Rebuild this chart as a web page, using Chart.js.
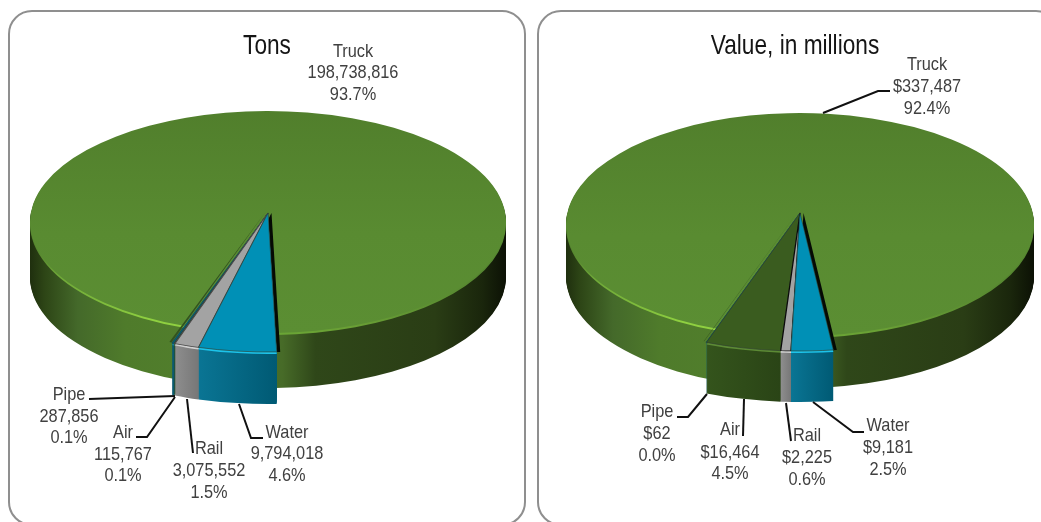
<!DOCTYPE html>
<html>
<head>
<meta charset="utf-8">
<script src="https://cdn.jsdelivr.net/npm/chart.js@4/dist/chart.umd.min.js"></script>
<style>
html,body{margin:0;padding:0;background:#fff;overflow:hidden;width:1041px;height:522px}
.panel{position:absolute;box-sizing:border-box;border:2px solid #8f8f8f;border-radius:24px;background:#fff}
canvas{position:absolute;top:0}
</style>
</head>
<body>
<div class="panel" style="left:8px;top:10px;width:518px;height:516px"></div>
<div class="panel" style="left:537px;top:10px;width:523px;height:516px"></div>
<canvas id="tons" width="530" height="522" style="left:0"></canvas>
<canvas id="value" width="530" height="522" style="left:530px"></canvas>
<script>
// ---- data ----
const categories = ['Truck', 'Water', 'Rail', 'Air', 'Pipe'];
const tonsValues = [198738816, 9794018, 3075552, 115767, 287856];
const valueMillions = [337487, 9181, 2225, 16464, 62];

// ---- styles ----
const topColors = ['#558630', '#0090b6', '#a3a3a3', '#3a5c1f', '#0b5a70'];
const rimColors = ['#8ccb45', '#1cc3ea', '#d0d0d0', '#5c8a35', '#1a8099'];
const sideStops = [
  [[0,'#1f2f0e'],[0.03,'#2d4516'],[0.1,'#44692a'],[0.2,'#4f7b2b'],[0.33,'#517e2c'],[0.53,'#476b28'],[0.6,'#2f4719'],[0.85,'#2a3d15'],[0.95,'#1a260c'],[1,'#0c1105']],
  [[0,'#0a7594'],[1,'#005a74']],
  [[0,'#8e8e8e'],[1,'#777777']],
  [[0,'#34541c'],[1,'#2a4416']],
  [[0,'#0b5a70'],[1,'#0b5a70']]
];
const FONT_FAMILY = '"Liberation Sans",sans-serif';
const LABEL_SIZE = 19, LABEL_SQUEEZE = 0.86, TEXT_DY = 1;
const TITLE_SIZE = 28, TITLE_SQUEEZE = 0.81;

// ---- layouts (page pixels, minus canvas origin) ----
const tonsLayout = {
  originX: 0, title: 'Tons', titleX: 267, titleY: 45, rotation: 200.7, prefix: '',
  cx: 268, tipY: 213, railEdge: '#4a4a4a',
  truck: {cy: 222, rx: 238, ry: 111, depth: 55},
  wedge: {rx: 272, ry: 139, depth: 52},
  labels: [
    {x: 353, y: [51, 72, 94], line: null},
    {x: 287, y: [432, 453, 475], line: [[263,438],[251,438],[239,404]]},
    {x: 209, y: [448, 470, 492], line: [[193,453],[187,399]]},
    {x: 123, y: [432, 454, 475], line: [[136,437],[147,437],[175,397]]},
    {x: 69,  y: [394, 416, 437], line: [[89,399],[175,396]]}
  ]
};
const valueLayout = {
  originX: 530, title: 'Value, in millions', titleX: 795, titleY: 45, rotation: 200.4, prefix: '$',
  cx: 800, tipY: 213, railEdge: '#0a0a0a',
  truck: {cy: 224.5, rx: 234, ry: 111.5, depth: 52},
  wedge: {rx: 269, ry: 138, depth: 51},
  labels: [
    {x: 927, y: [64, 86, 108], line: [[823,113],[878,91],[890,91]]},
    {x: 888, y: [425, 447, 469], line: [[864,432],[853,432],[813,402]]},
    {x: 807, y: [435, 457, 479], line: [[791,441],[786,403]]},
    {x: 730, y: [429, 452, 473], line: [[743,436],[744,399]]},
    {x: 657, y: [411, 433, 455], line: [[677,417],[688,417],[707,394]]}
  ]
};

function arcOpts(bg, bw, bc) {
  return {backgroundColor: bg, borderColor: bc || 'transparent', borderWidth: bw || 0,
    borderAlign: 'center', borderJoinStyle: 'round', borderRadius: 0, offset: 0, spacing: 0,
    circular: true, borderDash: [], borderDashOffset: 0};
}
function paint(ctx, arc, geo, cx, cy, dx, dy, fill, bw, bc) {
  const saved = arc.options;
  arc.options = arcOpts(fill, bw, bc);
  ctx.save();
  ctx.translate(cx + dx, cy + dy);
  ctx.scale(geo.rx / arc.outerRadius, geo.ry / arc.outerRadius);
  ctx.translate(-arc.x, -arc.y);
  arc.draw(ctx);
  ctx.restore();
  arc.options = saved;
}
function sideGradient(ctx, arc, stops) {
  const g = ctx.createLinearGradient(arc.x - arc.outerRadius, 0, arc.x + arc.outerRadius, 0);
  stops.forEach(s => g.addColorStop(s[0], s[1]));
  return g;
}
function wedgeSideGradient(ctx, arc, stops) {
  const a = arc.x + Math.sin(arc.startAngle + Math.PI / 2) * arc.outerRadius;
  const b = arc.x + Math.sin(arc.endAngle + Math.PI / 2) * arc.outerRadius;
  const g = ctx.createLinearGradient(Math.min(a, b), 0, Math.max(a, b) + 0.01, 0);
  stops.forEach(s => g.addColorStop(s[0], s[1]));
  return g;
}
function squeezedText(ctx, s, x, y, k) {
  ctx.save();
  ctx.translate(x, y);
  ctx.scale(k, 1);
  ctx.fillText(s, 0, 0);
  ctx.restore();
}

const pie3d = {
  id: 'pie3d',
  beforeDatasetsDraw(chart, args, opts) {
    const L = opts.layout, ctx = chart.ctx, arcs = chart.getDatasetMeta(0).data;
    const cx = L.cx - L.originX, t = L.truck, w = L.wedge;
    // truck: extruded body, rim highlight, face
    const truck = arcs[0];
    const sg = sideGradient(ctx, truck, sideStops[0]);
    for (let d = t.depth; d >= 1; d--) paint(ctx, truck, t, cx, t.cy, 0, d, sg);
    const rim = ctx.createLinearGradient(truck.x - truck.outerRadius, 0, truck.x + truck.outerRadius, 0);
    rim.addColorStop(0, '#4d7a2a'); rim.addColorStop(0.06, '#6fa838'); rim.addColorStop(0.25, '#8fd040');
    rim.addColorStop(0.32, '#8fd040'); rim.addColorStop(0.53, '#6aa535'); rim.addColorStop(0.67, '#6aa035');
    rim.addColorStop(0.95, '#558630'); rim.addColorStop(1, '#558630');
    paint(ctx, truck, t, cx, t.cy, 0, 2, rim);
    const face = ctx.createLinearGradient(0, truck.y - truck.outerRadius, 0, truck.y + truck.outerRadius);
    face.addColorStop(0, '#517f2c'); face.addColorStop(0.55, '#598b31'); face.addColorStop(1, '#5b8e33');
    paint(ctx, truck, t, cx, t.cy, 0, 0, face);
    // dark walls on either side of the wedge
    paint(ctx, arcs[1], w, cx, L.tipY, 3.5, 0, '#050a04');
    paint(ctx, arcs[arcs.length - 1], w, cx, L.tipY, -2.5, -1, '#33521f');
    // wedge slices, left to right
    for (let i = arcs.length - 1; i >= 1; i--) {
      const a = arcs[i];
      const g = wedgeSideGradient(ctx, a, sideStops[i]);
      for (let d = w.depth; d >= 1; d--) paint(ctx, a, w, cx, L.tipY, 0, d, g);
      paint(ctx, a, w, cx, L.tipY, 0, 2, rimColors[i]);
      const edge = i === 4 ? '#0b4a5c' : i === 2 ? L.railEdge : '#2e3e30';
      paint(ctx, a, w, cx, L.tipY, 0, 0, topColors[i], i === 2 ? 1.2 : 0.8, edge);
    }
    return false;
  },
  afterDraw(chart, args, opts) {
    const L = opts.layout, ctx = chart.ctx;
    const values = chart.data.datasets[0].data;
    const total = values.reduce((s, v) => s + v, 0);
    ctx.save();
    ctx.strokeStyle = '#111';
    ctx.lineWidth = 2;
    ctx.lineJoin = 'miter';
    L.labels.forEach(l => {
      if (!l.line) return;
      ctx.beginPath();
      l.line.forEach((p, i) => {
        const x = p[0] - L.originX;
        i ? ctx.lineTo(x, p[1]) : ctx.moveTo(x, p[1]);
      });
      ctx.stroke();
    });
    ctx.textAlign = 'center';
    ctx.textBaseline = 'middle';
    ctx.fillStyle = '#151515';
    ctx.font = TITLE_SIZE + 'px ' + FONT_FAMILY;
    squeezedText(ctx, L.title, L.titleX - L.originX, L.titleY + TEXT_DY, TITLE_SQUEEZE);
    ctx.fillStyle = '#404040';
    ctx.font = LABEL_SIZE + 'px ' + FONT_FAMILY;
    L.labels.forEach((l, i) => {
      const lines = [chart.data.labels[i],
        L.prefix + values[i].toLocaleString('en-US'),
        (values[i] / total * 100).toFixed(1) + '%'];
      lines.forEach((s, k) => squeezedText(ctx, s, l.x - L.originX, l.y[k] + TEXT_DY, LABEL_SQUEEZE));
    });
    ctx.restore();
  }
};

function makeChart(id, values, L) {
  return new Chart(document.getElementById(id), {
    type: 'pie',
    data: {labels: categories, datasets: [{data: values, backgroundColor: topColors, borderWidth: 0}]},
    plugins: [pie3d],
    options: {
      responsive: false, animation: false, events: [], rotation: L.rotation,
      layout: {padding: 4},
      plugins: {
        legend: {display: false}, tooltip: {enabled: false}, title: {display: false},
        pie3d: {layout: L}
      }
    }
  });
}
makeChart('tons', tonsValues, tonsLayout);
makeChart('value', valueMillions, valueLayout);
</script>
</body>
</html>
